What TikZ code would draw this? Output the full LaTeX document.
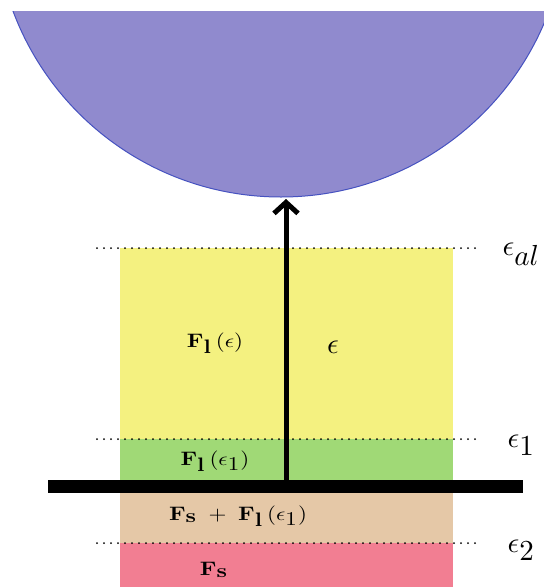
\documentclass[tikz,border=0pt]{standalone}
\usepackage{amsmath,amssymb}
\usetikzlibrary{arrows.meta}
\definecolor{ballfill}{RGB}{144,138,206}
\definecolor{balledge}{RGB}{70,82,192}
\definecolor{lyellow}{RGB}{244,241,128}
\definecolor{lgreen}{RGB}{160,217,118}
\definecolor{ltan}{RGB}{229,200,167}
\definecolor{lpink}{RGB}{242,126,146}

\begin{document}
\begin{tikzpicture}[x=1pt, y=-1pt, every node/.style={inner sep=0pt},
	level/.style={line width=2pt, dash pattern=on 0pt off 7pt, line cap=round},
	flab/.style={xscale=2.3, yscale=1.95, anchor=base},
	elab/.style={scale=2.9, anchor=base west}]
	\useasboundingbox (0,0) rectangle (544,587);
	% the ball, cut at the top
	\begin{scope}
		\clip (0,11) rectangle (544,587);
		\draw[fill=ballfill, draw=balledge, line width=1pt] (281,-89) circle (286pt);
	\end{scope}
	\fill[lyellow] (120,248) rectangle (453,439);
	\fill[lgreen] (120,439) rectangle (453,487);
	\fill[ltan] (120,487) rectangle (453,543);
	\fill[lpink] (120,543) rectangle (453,587);
	\draw[level] (97,248) -- (477,248);
	\draw[level] (97,439) -- (477,439);
	\draw[level] (97,543) -- (477,543);
	\coordinate (barleft) at (48,486.5);
	\coordinate (barright) at (523,486.5);
	\coordinate (foot) at (286,486.5);
	\coordinate (ballbottom) at (286,199);
	\draw[line width=13pt] (barleft) -- (barright);
	\draw[line width=5pt, -{Straight Barb[length=11pt, width=24pt]}] (foot) -- (ballbottom);
	\node[flab] (fleps) at (215,347) {$\mathbf{F}_{\textstyle\mathbf{l}}\,(\epsilon)$};
	\node[elab, anchor=base] (eps) at (333,353) {$\epsilon$};
	\node[flab] (flepsone) at (215,465) {$\mathbf{F}_{\textstyle\mathbf{l}}\,(\epsilon_{\textstyle 1})$};
	\node[flab] (fsfl) at (238,520) {$\mathbf{F}_{\textstyle\mathbf{s}}\;+\;\mathbf{F}_{\textstyle\mathbf{l}}\,(\epsilon_{\textstyle 1})$};
	\node[flab] (fs) at (214,575) {$\mathbf{F}_{\textstyle\mathbf{s}}$};
	\node[elab] (epsal) at (502,255) {$\epsilon_{\textstyle al}$};
	\node[elab] (epsone) at (507,447) {$\epsilon_{\textstyle 1}$};
	\node[elab] (epstwo) at (507,552) {$\epsilon_{\textstyle 2}$};
\end{tikzpicture}
\end{document}
